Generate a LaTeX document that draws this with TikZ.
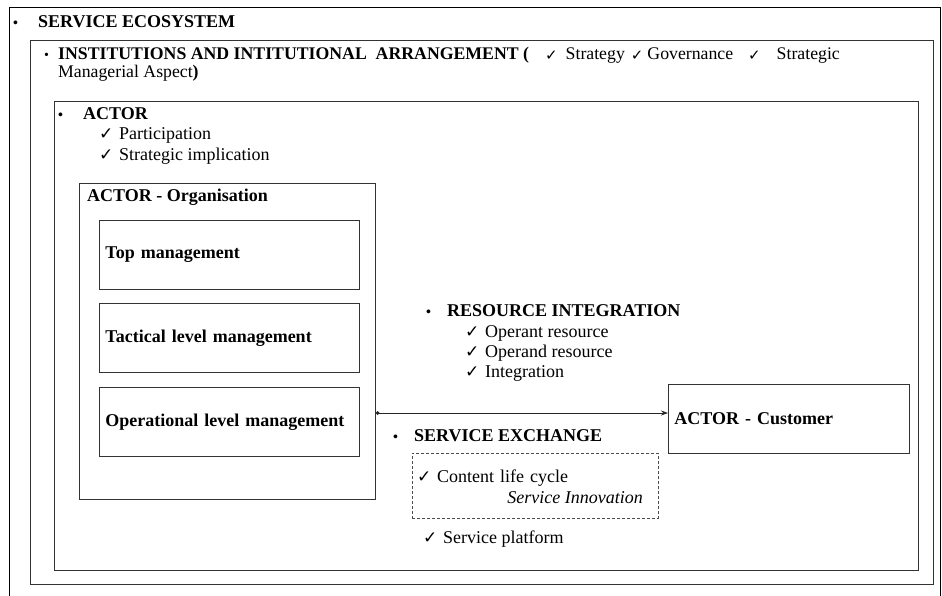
\documentclass[tikz,border=0pt]{standalone}
\usepackage{fontspec}
\setmainfont{Liberation Serif}
\newfontfamily\symfont{DejaVu Sans}
\usetikzlibrary{arrows.meta}
\newcommand\ck{{\symfont\fontsize{17}{17}\selectfont ✓}}
\newcommand\cki{\raisebox{-1pt}{\symfont\fontsize{15}{15}\selectfont ✓}}
\newcommand\lck{\makebox[20pt][l]{\ck}}
\newcommand\bul[1]{\makebox[#1][l]{\fontsize{14}{14}\selectfont\textbullet}}
\newcommand\fsz{\fontsize{18}{21}\selectfont}
\tikzset{
  frame/.style={draw=black!80, line width=0.9pt, anchor=north west, inner sep=0pt},
  mbox/.style={frame, minimum height=69pt, inner xsep=6pt, inner ysep=0pt,
    align=left, font=\fsz\bfseries},
  txt/.style={anchor=west, inner sep=0pt, font=\fsz},
  btxt/.style={anchor=west, inner sep=0pt, font=\fsz\bfseries},
  link/.style={draw=black!85, line width=0.8pt,
    {Circle[length=3.5pt]}-{Stealth[length=7pt,width=5pt]}}
}
\begin{document}
\begin{tikzpicture}[x=1pt,y=-1pt]
\useasboundingbox (0,0) rectangle (942,595);
\clip (0,0) rectangle (942,595);
% frames
\node[frame, draw=black, minimum width=931pt, minimum height=600pt] (eco) at (9,7) {};
\node[frame, minimum width=903pt, minimum height=544pt] (inst) at (30,40) {};
\node[frame, minimum width=864pt, minimum height=469pt] (actor) at (54,101) {};
\node[frame, minimum width=296pt, minimum height=316pt] (org) at (79,183) {};
% titles
\node[btxt] (ecot) at (13,22) {\bul{25pt}SERVICE ECOSYSTEM};
\node[txt, align=left, font=\fontsize{17.75}{18}\selectfont] (instt) at (44,64)
  {\bul{14pt}\textbf{INSTITUTIONS AND INTITUTIONAL\ \ ARRANGEMENT (}\hspace{16pt}\cki\hspace{8pt}Strategy\hspace{6pt}\cki\hspace{4pt}Governance\hspace{15pt}\cki\hspace{16pt}Strategic\\
   \hspace{14pt}Managerial Aspect\textbf{)}};
\node[btxt] (actort) at (58,114) {\bul{25pt}ACTOR};
\node[txt] (part) at (99,135) {\lck Participation};
\node[txt] (strat) at (99,156) {\lck Strategic implication};
\node[btxt] (orgt) at (87,197) {ACTOR - Organisation};
% management boxes
\node[mbox, text width=248pt] (top) at (99,220) {Top management};
\node[mbox, text width=248pt] (tac) at (99,303) {Tactical level management};
\node[mbox, text width=248pt] (ope) at (99,387) {Operational level management};
% resource integration
\node[btxt] (rest) at (426,311) {\bul{21pt}RESOURCE INTEGRATION};
\node[txt] (r1) at (465,333) {\lck Operant resource};
\node[txt] (r2) at (465,353) {\lck Operand resource};
\node[txt] (r3) at (465,373) {\lck Integration};
% customer
\node[mbox, minimum width=241pt, text width=229pt] (cust) at (668,384) {ACTOR - Customer};
% arrow
\coordinate (ay) at (0,413);
\draw[link] (org.east |- ay) -- (cust.west |- ay);
% service exchange
\node[btxt] (sext) at (393,436) {\bul{21pt}SERVICE EXCHANGE};
\node[frame, dashed, dash pattern=on 3pt off 2pt, draw=black!70, line width=0.7pt,
  minimum width=246pt, minimum height=65pt] (dash) at (412,453) {};
\node[txt] (clc) at (417,478) {\lck Content\hspace{6pt}life\hspace{6pt}cycle};
\node[txt, anchor=east, font=\fsz\itshape] (sinn) at (643,498) {Service Innovation};
\node[txt] (splat) at (423,539) {\lck Service platform};
\end{tikzpicture}
\end{document}
